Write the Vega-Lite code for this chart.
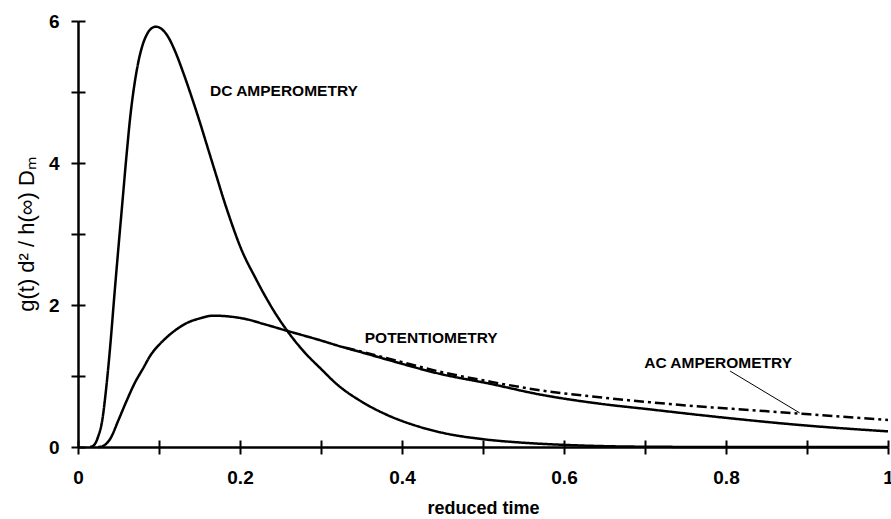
{
  "$schema": "https://vega.github.io/schema/vega-lite/v6.json",
  "width": 810,
  "height": 426,
  "autosize": {"type": "none"},
  "padding": {"left": 78, "top": 21, "right": 3, "bottom": 72},
  "background": "white",
  "config": {"view": {"stroke": null}},
  "datasets": {
    "curves": [
      {"series": "DC", "t": 0.015, "v": 0},
      {"series": "DC", "t": 0.02, "v": 0.03},
      {"series": "DC", "t": 0.025, "v": 0.15},
      {"series": "DC", "t": 0.03, "v": 0.38},
      {"series": "DC", "t": 0.035, "v": 0.85},
      {"series": "DC", "t": 0.04, "v": 1.45},
      {"series": "DC", "t": 0.045, "v": 2.15},
      {"series": "DC", "t": 0.05, "v": 2.82},
      {"series": "DC", "t": 0.055, "v": 3.47},
      {"series": "DC", "t": 0.06, "v": 4.12},
      {"series": "DC", "t": 0.065, "v": 4.7},
      {"series": "DC", "t": 0.07, "v": 5.13},
      {"series": "DC", "t": 0.075, "v": 5.45},
      {"series": "DC", "t": 0.08, "v": 5.67},
      {"series": "DC", "t": 0.085, "v": 5.81},
      {"series": "DC", "t": 0.09, "v": 5.89},
      {"series": "DC", "t": 0.096, "v": 5.92},
      {"series": "DC", "t": 0.1, "v": 5.91},
      {"series": "DC", "t": 0.105, "v": 5.87},
      {"series": "DC", "t": 0.11, "v": 5.8},
      {"series": "DC", "t": 0.12, "v": 5.57},
      {"series": "DC", "t": 0.13, "v": 5.27},
      {"series": "DC", "t": 0.14, "v": 4.94},
      {"series": "DC", "t": 0.15, "v": 4.59},
      {"series": "DC", "t": 0.16, "v": 4.22},
      {"series": "DC", "t": 0.17, "v": 3.85},
      {"series": "DC", "t": 0.18, "v": 3.48},
      {"series": "DC", "t": 0.19, "v": 3.14},
      {"series": "DC", "t": 0.2, "v": 2.83},
      {"series": "DC", "t": 0.22, "v": 2.36},
      {"series": "DC", "t": 0.24, "v": 1.95},
      {"series": "DC", "t": 0.26, "v": 1.61},
      {"series": "DC", "t": 0.28, "v": 1.33},
      {"series": "DC", "t": 0.3, "v": 1.1},
      {"series": "DC", "t": 0.32, "v": 0.88},
      {"series": "DC", "t": 0.35, "v": 0.64},
      {"series": "DC", "t": 0.38, "v": 0.46},
      {"series": "DC", "t": 0.42, "v": 0.29},
      {"series": "DC", "t": 0.45, "v": 0.2},
      {"series": "DC", "t": 0.5, "v": 0.11},
      {"series": "DC", "t": 0.55, "v": 0.06},
      {"series": "DC", "t": 0.6, "v": 0.03},
      {"series": "DC", "t": 0.65, "v": 0.012},
      {"series": "DC", "t": 0.7, "v": 0.004},
      {"series": "DC", "t": 0.8, "v": 0},
      {"series": "DC", "t": 1.0, "v": 0},
      {"series": "POT", "t": 0.025, "v": 0},
      {"series": "POT", "t": 0.03, "v": 0.01},
      {"series": "POT", "t": 0.04, "v": 0.12},
      {"series": "POT", "t": 0.05, "v": 0.38},
      {"series": "POT", "t": 0.06, "v": 0.65},
      {"series": "POT", "t": 0.07, "v": 0.9},
      {"series": "POT", "t": 0.08, "v": 1.1},
      {"series": "POT", "t": 0.09, "v": 1.3},
      {"series": "POT", "t": 0.101, "v": 1.45},
      {"series": "POT", "t": 0.112, "v": 1.57},
      {"series": "POT", "t": 0.122, "v": 1.66},
      {"series": "POT", "t": 0.135, "v": 1.75},
      {"series": "POT", "t": 0.15, "v": 1.81},
      {"series": "POT", "t": 0.167, "v": 1.85},
      {"series": "POT", "t": 0.185, "v": 1.84},
      {"series": "POT", "t": 0.208, "v": 1.8},
      {"series": "POT", "t": 0.23, "v": 1.73},
      {"series": "POT", "t": 0.257, "v": 1.64},
      {"series": "POT", "t": 0.3, "v": 1.5},
      {"series": "POT", "t": 0.323, "v": 1.42},
      {"series": "POT", "t": 0.348, "v": 1.34},
      {"series": "POT", "t": 0.385, "v": 1.22},
      {"series": "POT", "t": 0.447, "v": 1.03},
      {"series": "POT", "t": 0.509, "v": 0.89},
      {"series": "POT", "t": 0.57, "v": 0.74},
      {"series": "POT", "t": 0.644, "v": 0.61},
      {"series": "POT", "t": 0.706, "v": 0.53},
      {"series": "POT", "t": 0.768, "v": 0.45},
      {"series": "POT", "t": 0.809, "v": 0.4},
      {"series": "POT", "t": 0.891, "v": 0.31},
      {"series": "POT", "t": 1.0, "v": 0.22},
      {"series": "AC", "t": 0.33, "v": 1.4},
      {"series": "AC", "t": 0.348, "v": 1.35},
      {"series": "AC", "t": 0.385, "v": 1.24},
      {"series": "AC", "t": 0.447, "v": 1.06},
      {"series": "AC", "t": 0.509, "v": 0.92},
      {"series": "AC", "t": 0.57, "v": 0.8},
      {"series": "AC", "t": 0.644, "v": 0.7},
      {"series": "AC", "t": 0.706, "v": 0.63},
      {"series": "AC", "t": 0.768, "v": 0.57},
      {"series": "AC", "t": 0.83, "v": 0.52},
      {"series": "AC", "t": 0.891, "v": 0.47},
      {"series": "AC", "t": 1.0, "v": 0.38}
    ],
    "labels": [
      {"label": "DC AMPEROMETRY", "t": 0.163, "v": 5.01},
      {"label": "POTENTIOMETRY", "t": 0.354, "v": 1.53},
      {"label": "AC AMPEROMETRY", "t": 0.699, "v": 1.18}
    ],
    "leader": [
      {"t": 0.805, "v": 1.07, "t2": 0.891, "v2": 0.48}
    ]
  },
  "layer": [
    {
      "data": {"name": "curves"},
      "mark": {"type": "line", "strokeWidth": 2.5, "color": "black", "interpolate": "monotone"},
      "encoding": {
        "x": {
          "field": "t", "type": "quantitative",
          "scale": {"domain": [0, 1], "nice": false, "zero": false},
          "axis": {
            "orient": "bottom",
            "values": [0, 0.1, 0.2, 0.3, 0.4, 0.5, 0.6, 0.7, 0.8, 0.9, 1],
            "format": ".1~f",
            "labelExpr": "round(datum.value * 10) % 2 == 0 ? datum.label : ''",
            "grid": false,
            "domainColor": "black", "domainWidth": 2.5,
            "tickColor": "black", "tickWidth": 2, "tickSize": 7,
            "labelFont": "Liberation Sans", "labelFontWeight": "bold", "labelFontSize": 19,
            "labelColor": "black", "labelPadding": 14, "labelFlush": false, "labelOverlap": false, "labelBound": false,
            "title": "reduced time",
            "titleFont": "Liberation Sans", "titleFontWeight": "bold", "titleFontSize": 18,
            "titleColor": "black", "titlePadding": 12
          }
        },
        "y": {
          "field": "v", "type": "quantitative",
          "scale": {"domain": [0, 6], "nice": false},
          "axis": {
            "orient": "left",
            "values": [0, 1, 2, 3, 4, 5, 6],
            "labelExpr": "datum.value % 2 == 0 ? datum.label : ''",
            "grid": false,
            "domainColor": "black", "domainWidth": 2.5,
            "tickColor": "black", "tickWidth": 2, "tickSize": 7,
            "labelFont": "Liberation Sans", "labelFontWeight": "bold", "labelFontSize": 19,
            "labelColor": "black", "labelPadding": 12, "labelFlush": false, "labelOverlap": false, "labelBound": false,
            "title": "g(t) d² / h(∞) Dₘ",
            "titleFont": "Liberation Sans", "titleFontWeight": "normal", "titleFontSize": 22,
            "titleColor": "black", "titlePadding": 10
          }
        },
        "detail": {"field": "series", "type": "nominal"},
        "strokeDash": {
          "field": "series", "type": "nominal",
          "scale": {"domain": ["DC", "POT", "AC"], "range": [[1, 0], [1, 0], [10, 4, 3, 4]]},
          "legend": null
        }
      }
    },
    {
      "data": {"name": "leader"},
      "mark": {"type": "rule", "strokeWidth": 1, "color": "black"},
      "encoding": {
        "x": {"field": "t", "type": "quantitative", "axis": null},
        "y": {"field": "v", "type": "quantitative", "axis": null},
        "x2": {"field": "t2"},
        "y2": {"field": "v2"}
      }
    },
    {
      "data": {"name": "labels"},
      "mark": {"type": "text", "align": "left", "baseline": "middle", "font": "Liberation Sans", "fontWeight": "bold", "fontSize": 15.5, "color": "black"},
      "encoding": {
        "x": {
          "field": "t", "type": "quantitative",
          "axis": {
            "orient": "bottom", "offset": -7,
            "values": [0, 0.1, 0.2, 0.3, 0.4, 0.5, 0.6, 0.7, 0.8, 0.9, 1],
            "domain": false, "labels": false, "grid": false, "title": null,
            "tickColor": "black", "tickWidth": 2, "tickSize": 7
          }
        },
        "y": {
          "field": "v", "type": "quantitative",
          "axis": {
            "orient": "left", "offset": -7,
            "values": [0, 1, 2, 3, 4, 5, 6],
            "domain": false, "labels": false, "grid": false, "title": null,
            "tickColor": "black", "tickWidth": 2, "tickSize": 7
          }
        },
        "text": {"field": "label", "type": "nominal"}
      }
    }
  ],
  "resolve": {"axis": {"x": "independent", "y": "independent"}}
}
